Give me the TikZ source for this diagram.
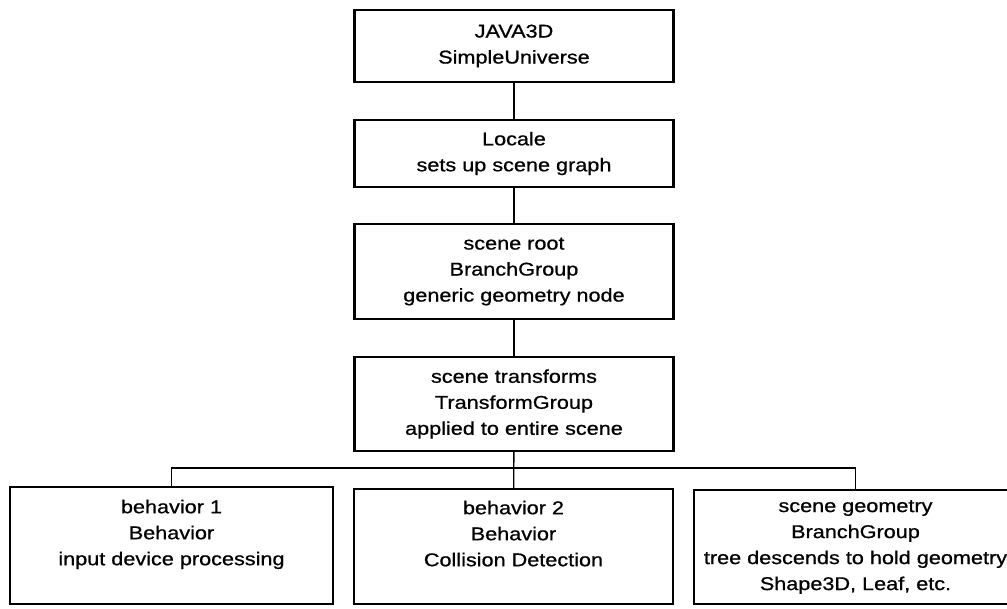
\documentclass[tikz,border=0pt]{standalone}
\usepackage{fontspec}
\setmainfont{Liberation Sans}[FakeStretch=1.17,FakeBold=0.8]
\usepackage{tikz}

\begin{document}
\begin{tikzpicture}[x=1pt,y=-1pt,
  box/.style={draw,line width=2.4pt,align=center,inner sep=0pt,
    font=\fontsize{18.5pt}{26pt}\selectfont},
  link/.style={line width=1.4pt}]

\useasboundingbox (0,0) rectangle (1007,608);

\node[box,minimum width=319pt,minimum height=72pt] (universe) at (514,46) {JAVA3D\\SimpleUniverse};
\node[box,minimum width=319pt,minimum height=67pt] (locale) at (514,153.5) {Locale\\sets up scene graph};
\node[box,minimum width=319pt,minimum height=95pt] (root) at (514,271.5) {scene root\\BranchGroup\\generic geometry node};
\node[box,minimum width=319pt,minimum height=94pt] (transforms) at (514,404) {scene transforms\\TransformGroup\\applied to entire scene};

\node[box,minimum width=323pt,minimum height=117pt] (behavone) at (171.5,545.5) {behavior 1\\Behavior\\input device processing\\ \mbox{}};
\node[box,minimum width=319pt,minimum height=115pt] (behavtwo) at (513.5,546.5) {behavior 2\\Behavior\\Collision Detection\\ \mbox{}};
\node[box,minimum width=323pt,minimum height=114pt] (geometry) at (855.5,547) {scene geometry\\BranchGroup\\tree descends to hold geometry\\Shape3D, Leaf, etc.};

\coordinate (bus) at (514,468);

\draw[link] (universe) -- (locale);
\draw[link] (locale) -- (root);
\draw[link] (root) -- (transforms);
\draw[link] (transforms) -- (behavtwo);
\draw[link] (behavone.north) -- (behavone.north |- bus) -- (geometry.north |- bus) -- (geometry.north);

\end{tikzpicture}
\end{document}
